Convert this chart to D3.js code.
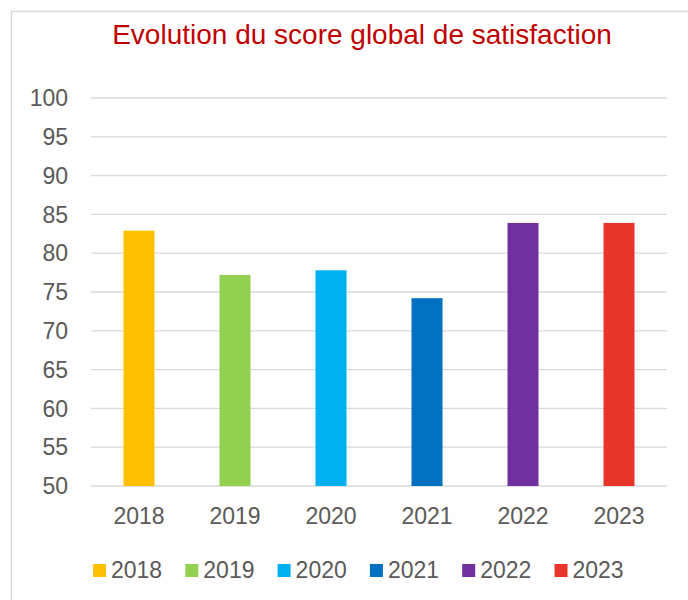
<!DOCTYPE html>
<html>
<head>
<meta charset="utf-8">
<script src="https://cdn.jsdelivr.net/npm/d3@7"></script>
<style>
  body { margin: 0; background: #fff; }
  text { font-family: "Liberation Sans", Arial, sans-serif; }
</style>
</head>
<body>
<div id="chart-container"></div>
<script>
const years = ['2018', '2019', '2020', '2021', '2022', '2023'];
const scores = [82.9, 77.2, 77.8, 74.2, 83.9, 83.9];
const colors = ['#FFC000', '#92D050', '#00B0F0', '#0070C0', '#7030A0', '#E8352B'];
const yTicks = [50, 55, 60, 65, 70, 75, 80, 85, 90, 95, 100];

const width = 688;
const height = 600;
const margin = { top: 98, right: 21, bottom: 114, left: 91 };

const svg = d3.select('#chart-container')
              .append('svg')
              .attr('width', width)
              .attr('height', height);

// chart frame
svg.append('rect')
   .attr('x', 11.5).attr('y', 11.5)
   .attr('width', 700).attr('height', 620)
   .attr('fill', '#fff')
   .attr('stroke', '#d9d9d9')
   .attr('stroke-width', 1.5);

svg.append('text')
   .attr('x', 362).attr('y', 44)
   .attr('text-anchor', 'middle')
   .attr('fill', '#C00000')
   .style('font-size', '28px')
   .text('Evolution du score global de satisfaction');

const x = d3.scaleBand()
            .domain(years)
            .range([margin.left, width - margin.right])
            .paddingInner(0.677)
            .paddingOuter(0.3385);

const y = d3.scaleLinear()
            .domain([50, 100])
            .range([height - margin.bottom, margin.top]);

// gridlines
svg.append('g')
   .selectAll('line')
   .data(yTicks)
   .join('line')
     .attr('x1', margin.left)
     .attr('x2', width - margin.right)
     .attr('y1', d => y(d))
     .attr('y2', d => y(d))
     .attr('stroke', '#d9d9d9')
     .attr('stroke-width', 1.3);

// y labels
svg.append('g')
   .selectAll('text')
   .data(yTicks)
   .join('text')
     .attr('x', 68)
     .attr('y', d => y(d))
     .attr('dy', '0.36em')
     .attr('text-anchor', 'end')
     .attr('fill', '#595959')
     .style('font-size', '23px')
     .text(d => d);

// bars
svg.append('g')
   .selectAll('rect')
   .data(scores)
   .join('rect')
     .attr('x', (d, i) => x(years[i]))
     .attr('y', d => y(d))
     .attr('width', x.bandwidth())
     .attr('height', d => y(50) - y(d))
     .attr('fill', (d, i) => colors[i]);

// x labels
svg.append('g')
   .selectAll('text')
   .data(years)
   .join('text')
     .attr('x', d => x(d) + x.bandwidth() / 2)
     .attr('y', 524)
     .attr('text-anchor', 'middle')
     .attr('fill', '#595959')
     .style('font-size', '23px')
     .text(d => d);

// legend
const legend = svg.append('g')
   .selectAll('g')
   .data(years)
   .join('g')
     .attr('transform', (d, i) => `translate(${93 + i * 92.3},564)`);

legend.append('rect')
      .attr('width', 13).attr('height', 13)
      .attr('fill', (d, i) => colors[i]);

legend.append('text')
      .attr('x', 18).attr('y', 14)
      .attr('fill', '#595959')
      .style('font-size', '23px')
      .text(d => d);
</script>
</body>
</html>
